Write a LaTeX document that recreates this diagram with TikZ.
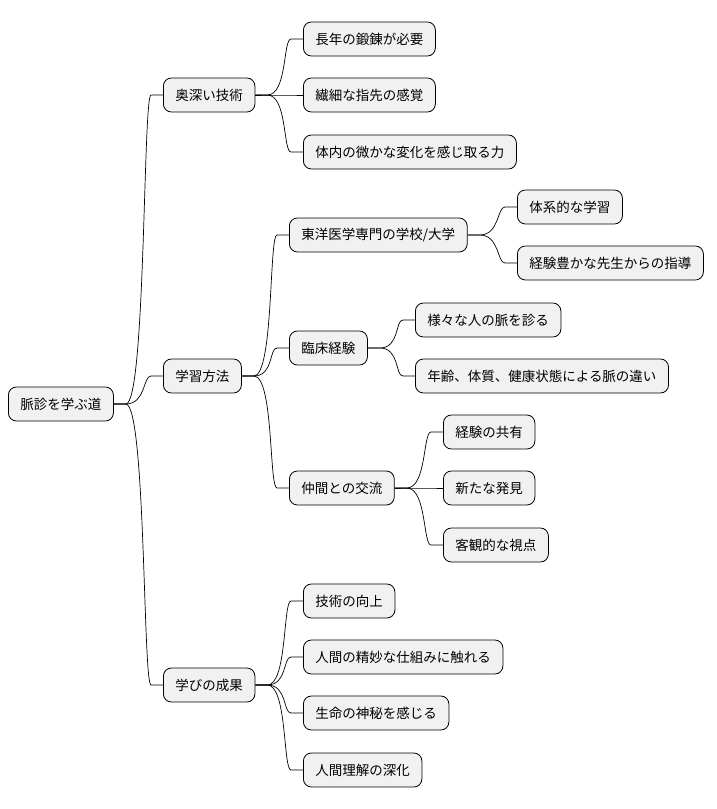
\documentclass[tikz,border=0pt]{standalone}
\usepackage{fontspec}
\usetikzlibrary{calc}
\setmainfont{Noto Sans CJK JP}
\begin{document}
\begin{tikzpicture}[x=1pt,y=-1pt,
  box/.style={draw=black,fill={rgb,255:red,241;green,241;blue,241},rounded corners=8pt,
    anchor=west,minimum height=34pt,inner xsep=12pt,inner ysep=0pt,line width=0.8pt,
    font=\fontsize{13.5}{16}\selectfont},
  link/.style={draw=black,line width=0.7pt}]
\useasboundingbox (0,0) rectangle (717,809);
\node[box] (r) at (8,404) {脈診を学ぶ道};
\node[box] (a) at (163,95) {奥深い技術};
\node[box] (b) at (163,376) {学習方法};
\node[box] (c) at (163,685) {学びの成果};
\node[box] (a1) at (303,39) {長年の鍛錬が必要};
\node[box] (a2) at (303,95) {繊細な指先の感覚};
\node[box] (a3) at (303,152) {体内の微かな変化を感じ取る力};
\node[box] (b1) at (289,235) {東洋医学専門の学校/大学};
\node[box] (b11) at (517,207) {体系的な学習};
\node[box] (b12) at (517,263) {経験豊かな先生からの指導};
\node[box] (b2) at (289,348) {臨床経験};
\node[box] (b21) at (415,320) {様々な人の脈を診る};
\node[box] (b22) at (415,376) {年齢、体質、健康状態による脈の違い};
\node[box] (b3) at (289,488) {仲間との交流};
\node[box] (b31) at (443,432) {経験の共有};
\node[box] (b32) at (443,488) {新たな発見};
\node[box] (b33) at (443,545) {客観的な視点};
\node[box] (c1) at (303,601) {技術の向上};
\node[box] (c2) at (303,657) {人間の精妙な仕組みに触れる};
\node[box] (c3) at (303,713) {生命の神秘を感じる};
\node[box] (c4) at (303,770) {人間理解の深化};
\foreach \p/\c in {r/a,r/b,r/c,a/a1,a/a2,a/a3,b/b1,b/b2,b/b3,b1/b11,b1/b12,b2/b21,b2/b22,b3/b31,b3/b32,b3/b33,c/c1,c/c2,c/c3,c/c4}
  \draw[link] (\p.east) -- ++(12,0) .. controls ++(20,0) and ($(\c.west)+(-20,0)$) .. ($(\c.west)+(-12,0)$) -- (\c.west);
\end{tikzpicture}
\end{document}
